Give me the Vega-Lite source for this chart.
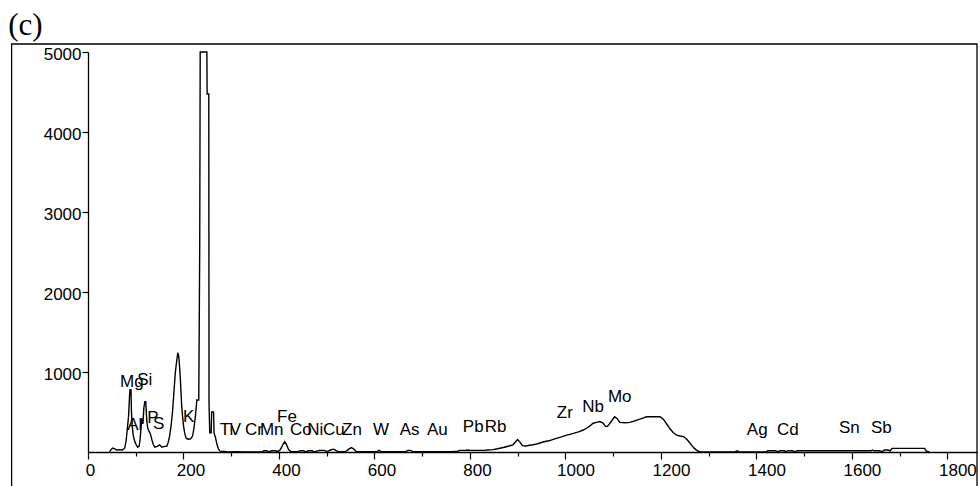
{
  "$schema": "https://vega.github.io/schema/vega-lite/v6.json",
  "width": 889,
  "height": 400,
  "autosize": "none",
  "padding": {"left": 88, "top": 52, "right": 3, "bottom": 34},
  "background": "white",
  "config": {"view": {"stroke": null}},
  "datasets": {
    "spectrum": [
      {"ch":45,"counts":0},{"ch":48,"counts":30},{"ch":52,"counts":50},{"ch":56,"counts":40},{"ch":60,"counts":25},{"ch":66,"counts":30},{"ch":72,"counts":25},{"ch":77,"counts":50},{"ch":80,"counts":150},{"ch":83,"counts":330},{"ch":85,"counts":450},{"ch":87,"counts":700},{"ch":88,"counts":780},{"ch":90,"counts":780},{"ch":91,"counts":500},{"ch":93,"counts":300},{"ch":95,"counts":200},{"ch":98,"counts":130},{"ch":101,"counts":90},{"ch":104,"counts":60},{"ch":107,"counts":70},{"ch":109,"counts":150},{"ch":111,"counts":300},{"ch":113,"counts":420},{"ch":115,"counts":350},{"ch":117,"counts":550},{"ch":119,"counts":630},{"ch":121,"counts":630},{"ch":123,"counts":400},{"ch":125,"counts":300},{"ch":128,"counts":260},{"ch":131,"counts":220},{"ch":134,"counts":150},{"ch":137,"counts":90},{"ch":140,"counts":60},{"ch":145,"counts":70},{"ch":150,"counts":90},{"ch":155,"counts":60},{"ch":160,"counts":70},{"ch":165,"counts":70},{"ch":168,"counts":120},{"ch":171,"counts":200},{"ch":174,"counts":330},{"ch":177,"counts":500},{"ch":180,"counts":750},{"ch":183,"counts":1000},{"ch":186,"counts":1150},{"ch":188,"counts":1240},{"ch":190,"counts":1200},{"ch":192,"counts":1050},{"ch":194,"counts":850},{"ch":196,"counts":600},{"ch":198,"counts":450},{"ch":200,"counts":330},{"ch":203,"counts":220},{"ch":206,"counts":170},{"ch":210,"counts":160},{"ch":215,"counts":165},{"ch":219,"counts":200},{"ch":222,"counts":300},{"ch":225,"counts":450},{"ch":228,"counts":650},{"ch":232,"counts":650},{"ch":234,"counts":2560},{"ch":235,"counts":5000},{"ch":249,"counts":5000},{"ch":249.5,"counts":4475},{"ch":253,"counts":4475},{"ch":253.5,"counts":610},{"ch":255,"counts":240},{"ch":258,"counts":240},{"ch":259,"counts":500},{"ch":263,"counts":500},{"ch":264,"counts":240},{"ch":267,"counts":180},{"ch":270,"counts":100},{"ch":273,"counts":40},{"ch":276,"counts":15},{"ch":280,"counts":5},{"ch":285,"counts":10},{"ch":290,"counts":0},{"ch":310,"counts":5},{"ch":330,"counts":0},{"ch":365,"counts":0},{"ch":368,"counts":15},{"ch":375,"counts":15},{"ch":378,"counts":0},{"ch":385,"counts":15},{"ch":393,"counts":15},{"ch":398,"counts":5},{"ch":403,"counts":30},{"ch":408,"counts":90},{"ch":412,"counts":130},{"ch":416,"counts":90},{"ch":420,"counts":30},{"ch":425,"counts":5},{"ch":440,"counts":5},{"ch":445,"counts":15},{"ch":452,"counts":15},{"ch":455,"counts":0},{"ch":462,"counts":15},{"ch":470,"counts":15},{"ch":473,"counts":0},{"ch":485,"counts":20},{"ch":495,"counts":20},{"ch":500,"counts":5},{"ch":508,"counts":25},{"ch":514,"counts":35},{"ch":519,"counts":20},{"ch":524,"counts":5},{"ch":540,"counts":5},{"ch":546,"counts":35},{"ch":552,"counts":55},{"ch":557,"counts":35},{"ch":562,"counts":5},{"ch":580,"counts":5},{"ch":605,"counts":5},{"ch":610,"counts":20},{"ch":614,"counts":5},{"ch":665,"counts":5},{"ch":670,"counts":20},{"ch":676,"counts":20},{"ch":680,"counts":5},{"ch":760,"counts":5},{"ch":775,"counts":10},{"ch":778,"counts":20},{"ch":790,"counts":20},{"ch":795,"counts":25},{"ch":800,"counts":20},{"ch":810,"counts":20},{"ch":830,"counts":20},{"ch":838,"counts":25},{"ch":848,"counts":30},{"ch":858,"counts":40},{"ch":865,"counts":50},{"ch":872,"counts":60},{"ch":882,"counts":75},{"ch":890,"counts":90},{"ch":896,"counts":130},{"ch":900,"counts":155},{"ch":905,"counts":120},{"ch":910,"counts":80},{"ch":917,"counts":75},{"ch":925,"counts":85},{"ch":932,"counts":90},{"ch":940,"counts":100},{"ch":953,"counts":125},{"ch":965,"counts":140},{"ch":981,"counts":170},{"ch":990,"counts":185},{"ch":1003,"counts":210},{"ch":1015,"counts":230},{"ch":1029,"counts":255},{"ch":1037,"counts":275},{"ch":1045,"counts":300},{"ch":1052,"counts":330},{"ch":1058,"counts":360},{"ch":1065,"counts":370},{"ch":1072,"counts":380},{"ch":1078,"counts":365},{"ch":1084,"counts":320},{"ch":1088,"counts":320},{"ch":1092,"counts":350},{"ch":1098,"counts":400},{"ch":1103,"counts":440},{"ch":1108,"counts":420},{"ch":1114,"counts":370},{"ch":1125,"counts":365},{"ch":1135,"counts":370},{"ch":1145,"counts":390},{"ch":1156,"counts":410},{"ch":1165,"counts":430},{"ch":1170,"counts":440},{"ch":1185,"counts":440},{"ch":1198,"counts":440},{"ch":1205,"counts":410},{"ch":1212,"counts":350},{"ch":1219,"counts":290},{"ch":1226,"counts":240},{"ch":1233,"counts":210},{"ch":1240,"counts":200},{"ch":1248,"counts":190},{"ch":1254,"counts":160},{"ch":1259,"counts":125},{"ch":1265,"counts":80},{"ch":1270,"counts":45},{"ch":1275,"counts":20},{"ch":1282,"counts":0},{"ch":1355,"counts":0},{"ch":1360,"counts":15},{"ch":1364,"counts":0},{"ch":1420,"counts":0},{"ch":1424,"counts":15},{"ch":1440,"counts":15},{"ch":1444,"counts":5},{"ch":1450,"counts":15},{"ch":1458,"counts":15},{"ch":1462,"counts":5},{"ch":1466,"counts":15},{"ch":1475,"counts":15},{"ch":1480,"counts":5},{"ch":1486,"counts":15},{"ch":1640,"counts":15},{"ch":1643,"counts":25},{"ch":1646,"counts":15},{"ch":1658,"counts":15},{"ch":1664,"counts":5},{"ch":1668,"counts":25},{"ch":1676,"counts":25},{"ch":1680,"counts":15},{"ch":1684,"counts":45},{"ch":1752,"counts":45},{"ch":1756,"counts":10},{"ch":1762,"counts":0}
    ],
    "elements": [
      {"el":"Mg","ch":67,"counts":812},{"el":"Si","ch":103,"counts":838},{"el":"Al","ch":82,"counts":275},{"el":"P","ch":124,"counts":362},{"el":"S","ch":136,"counts":288},{"el":"K","ch":199,"counts":375},{"el":"Ti","ch":276,"counts":212},{"el":"V","ch":297,"counts":212},{"el":"Cr","ch":329,"counts":212},{"el":"Mn","ch":360,"counts":212},{"el":"Fe","ch":396,"counts":375},{"el":"Co","ch":423,"counts":212},{"el":"Ni","ch":459,"counts":212},{"el":"Cu","ch":492,"counts":212},{"el":"Zn","ch":532,"counts":212},{"el":"W","ch":597,"counts":212},{"el":"As","ch":653,"counts":212},{"el":"Au","ch":710,"counts":212},{"el":"Pb","ch":785,"counts":250},{"el":"Rb","ch":831,"counts":250},{"el":"Zr","ch":982,"counts":425},{"el":"Nb","ch":1035,"counts":500},{"el":"Mo","ch":1089,"counts":625},{"el":"Ag","ch":1380,"counts":212},{"el":"Cd","ch":1443,"counts":212},{"el":"Sn","ch":1573,"counts":238},{"el":"Sb","ch":1640,"counts":238}
    ]
  },
  "layer": [
    {
      "data": {"values": [{}]},
      "mark": {"type": "rect", "filled": false, "stroke": "black", "strokeWidth": 1.3},
      "encoding": {
        "x": {"datum": -160, "type": "quantitative", "scale": {"domain": [0, 1862], "nice": false, "zero": false}, "title": null},
        "x2": {"datum": 1862},
        "y": {"datum": 5100, "type": "quantitative", "scale": {"domain": [0, 5000], "nice": false}, "title": null},
        "y2": {"datum": -800}
      }
    },
    {
      "data": {"values": [{}]},
      "mark": {"type": "text", "align": "left", "baseline": "alphabetic", "font": "Liberation Serif", "fontSize": 31, "color": "black"},
      "encoding": {
        "x": {"datum": -167, "type": "quantitative", "title": null},
        "y": {"datum": 5212, "type": "quantitative", "title": null},
        "text": {"value": "(c)"}
      }
    },
    {
      "data": {"name": "spectrum"},
      "mark": {"type": "line", "color": "black", "strokeWidth": 1.4},
      "encoding": {
        "x": {
          "field": "ch", "type": "quantitative",
          "scale": {"domain": [0, 1862], "nice": false, "zero": false},
          "title": null,
          "axis": {
            "values": [0,50,100,150,200,250,300,350,400,450,500,550,600,650,700,750,800,850,900,950,1000,1050,1100,1150,1200,1250,1300,1350,1400,1450,1500,1550,1600,1650,1700,1750,1800,1850],
            "labelExpr": "datum.value % 200 === 0 ? datum.label : ''",
            "format": "d",
            "grid": false,
            "domainColor": "black", "domainWidth": 1.3,
            "tickColor": "black", "tickWidth": 1.2,
            "tickSize": {"condition": {"test": "datum.value % 200 === 0", "value": 7}, "value": 4},
            "labelOffset": {"condition": [{"test": "datum.value >= 1000", "value": 10}, {"test": "datum.value >= 100", "value": 7}], "value": 2},
            "labelFont": "Liberation Sans",
            "labelFontSize": 17, "labelColor": "black", "labelPadding": 3,
            "labelFlush": false, "labelOverlap": false
          }
        },
        "y": {
          "field": "counts", "type": "quantitative",
          "scale": {"domain": [0, 5000], "nice": false},
          "title": null,
          "axis": {
            "values": [1000, 2000, 3000, 4000, 5000],
            "format": "d",
            "grid": false,
            "domainColor": "black", "domainWidth": 1.3,
            "tickColor": "black", "tickWidth": 1.2, "tickSize": 6,
            "labelFont": "Liberation Sans",
            "labelFontSize": 17, "labelColor": "black", "labelPadding": 1,
            "labelOffset": 2, "labelFlush": false, "labelOverlap": false
          }
        }
      }
    },
    {
      "data": {"name": "elements"},
      "mark": {"type": "text", "align": "left", "baseline": "alphabetic", "font": "Liberation Sans", "fontSize": 17, "color": "black"},
      "encoding": {
        "x": {"field": "ch", "type": "quantitative", "title": null},
        "y": {"field": "counts", "type": "quantitative", "title": null},
        "text": {"field": "el"}
      }
    }
  ]
}
